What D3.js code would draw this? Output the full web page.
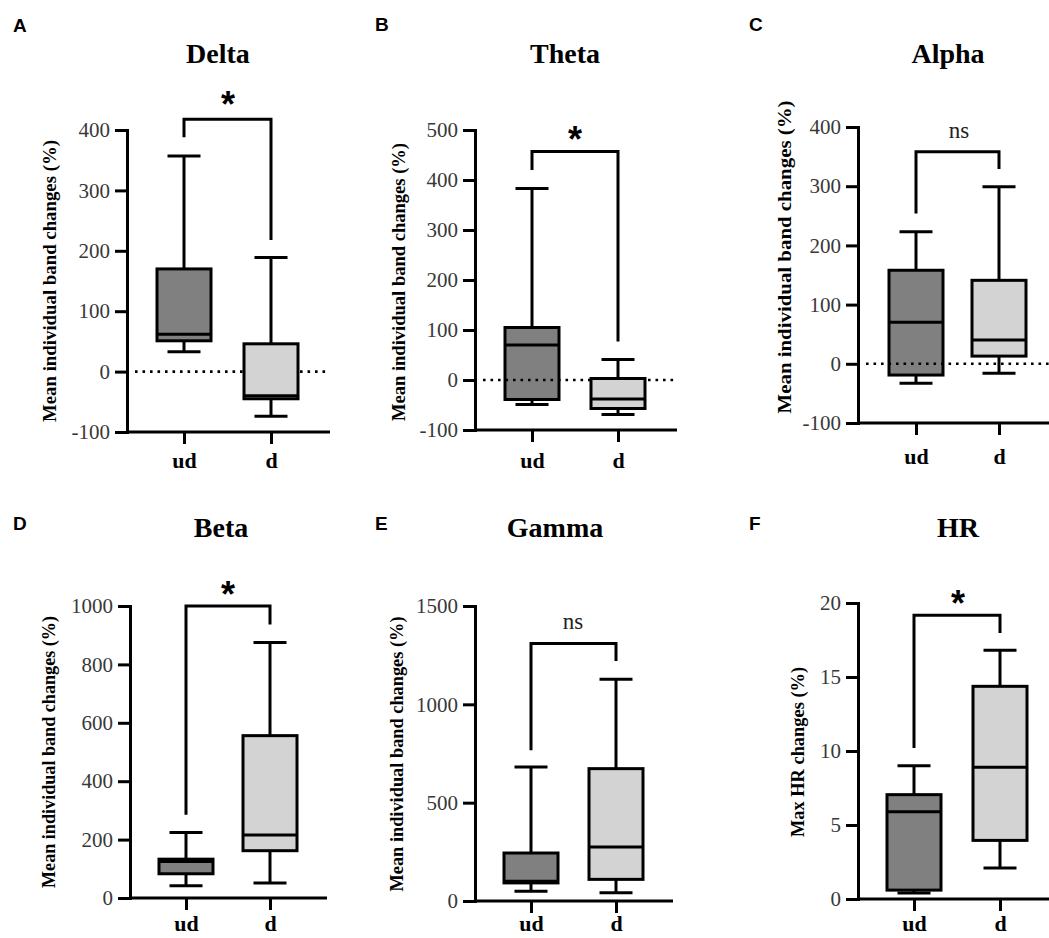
<!DOCTYPE html>
<html><head><meta charset="utf-8">
<script src="https://cdn.jsdelivr.net/npm/d3@7"></script>
<style>body{margin:0;background:#fff}svg{display:block}</style>
</head><body>
<svg id="c" width="1049" height="938"></svg>
<script>
// ---------- data ----------
const panelLetters = ["A","B","C","D","E","F"];
const panelTitles = ["Delta","Theta","Alpha","Beta","Gamma","HR"];
const groups = ["ud","d"];
const yDomains = [[-100,400],[-100,500],[-100,400],[0,1000],[0,1500],[0,20]];
const yTicks = [
  [-100,0,100,200,300,400],
  [-100,0,100,200,300,400,500],
  [-100,0,100,200,300,400],
  [0,200,400,600,800,1000],
  [0,500,1000,1500],
  [0,5,10,15,20]
];
const yLabels = [
  "Mean individual band changes (%)","Mean individual band changes (%)","Mean individual band changes (%)",
  "Mean individual band changes (%)","Mean individual band changes (%)","Max HR changes (%)"
];
// [min, q1, median, q3, max]
const udStats = [
  [33, 51, 62, 170, 357],
  [-49, -39, 70, 105, 383],
  [-33, -19, 70, 158, 223],
  [42, 83, 125, 133, 224],
  [49, 92, 100, 244, 681],
  [0.4, 0.6, 5.9, 7.05, 9.0]
];
const dStats = [
  [-74, -45, -40, 46, 189],
  [-69, -57, -38, 3, 41],
  [-16, 13, 40, 141, 299],
  [51, 162, 216, 556, 875],
  [42, 110, 275, 673, 1127],
  [2.1, 3.96, 8.9, 14.37, 16.8]
];
const significance = ["*","*","ns","*","ns","*"];
// [top, left leg end, right leg end]
const brackets = [
  [418, 388, 218],
  [457, 420, 77],
  [358, 254, 329],
  [1000, 285, 937],
  [1309, 766, 1220],
  [19.17, 10.2, 17.97]
];
const zeroLine = [true, true, true, false, false, false];

// ---------- layout ----------
const layout = [
  {ax:127, yTop:130, yBot:432, xu:184, xd:271, xEnd:330, tx:218, ty:63, lx:13, ly:32, labX:50, labY:281, labLen:282, sx:228, sy:98, xlb:468},
  {ax:475, yTop:130, yBot:430, xu:532, xd:618, xEnd:677, tx:565, ty:63, lx:375, ly:31, labX:399, labY:282, labLen:278, sx:575, sy:133, xlb:468},
  {ax:858, yTop:127, yBot:423, xu:916, xd:999, xEnd:1052, tx:948, ty:63, lx:749, ly:31, labX:785, labY:257, labLen:313, sx:959, sy:138, xlb:464},
  {ax:130, yTop:606, yBot:898, xu:186, xd:270, xEnd:327, tx:221, ty:537, lx:13, ly:530, labX:49, labY:752, labLen:272, sx:228, sy:588, xlb:931},
  {ax:475, yTop:606, yBot:901, xu:531, xd:616, xEnd:673, tx:555, ty:537, lx:375, ly:530, labX:397, labY:754, labLen:275, sx:573, sy:629, xlb:931},
  {ax:858, yTop:603, yBot:899, xu:914, xd:1000, xEnd:1052, tx:958, ty:537, lx:749, ly:530, labX:798, labY:752, labLen:170, sx:958, sy:597, xlb:931}
];
const boxW = 54, capW = 33, SW = 3;
const fills = {ud:"#808080", d:"#d3d3d3"};
const SERIF = "'Liberation Serif', 'Times New Roman', serif";
const SANS = "'Liberation Sans', Arial, sans-serif";

const svg = d3.select("#c");
svg.append("rect").attr("width",1049).attr("height",938).attr("fill","#fff");

panelTitles.forEach((title, i) => {
  const L = layout[i];
  const g = svg.append("g");
  const y = d3.scaleLinear().domain(yDomains[i]).range([L.yBot, L.yTop]);
  const x = d3.scalePoint().domain(groups).range([L.xu, L.xd]);

  // letter
  g.append("text").attr("x", L.lx).attr("y", L.ly).text(panelLetters[i])
    .style("font-family",SANS).attr("font-weight","bold")
    .attr("font-size",19).attr("fill","#000");
  // title
  g.append("text").attr("x", L.tx).attr("y", L.ty).attr("text-anchor","middle").text(title)
    .style("font-family",SERIF).attr("font-weight","bold")
    .attr("font-size",28).attr("fill","#000");
  // y label
  g.append("text").attr("transform",`translate(${L.labX},${L.labY}) rotate(-90)`)
    .attr("text-anchor","middle").attr("dominant-baseline","central")
    .attr("textLength", L.labLen).attr("lengthAdjust","spacingAndGlyphs")
    .text(yLabels[i])
    .style("font-family",SERIF).attr("font-weight","bold")
    .attr("font-size",18).attr("fill","#000");

  // y axis
  const ya = g.append("g").attr("transform",`translate(${L.ax},0)`)
    .call(d3.axisLeft(y).tickValues(yTicks[i]).tickSize(12).tickPadding(5).tickSizeOuter(0).tickFormat(d => String(d)));
  ya.attr("font-family", null).attr("font-size", null);
  ya.select(".domain").attr("stroke","#000").attr("stroke-width",SW).attr("stroke-linecap","square");
  ya.selectAll(".tick line").attr("stroke","#000").attr("stroke-width",SW);
  ya.selectAll(".tick text").style("font-family",SERIF)
    .attr("font-size",21).attr("fill","#383838");

  // x axis
  const xa = g.append("g").attr("transform",`translate(0,${L.yBot})`)
    .call(d3.axisBottom(x).tickSize(12).tickSizeOuter(0));
  xa.attr("font-family", null).attr("font-size", null);
  xa.select(".domain").remove();
  xa.append("line").attr("x1", L.ax).attr("x2", L.xEnd).attr("y1",0).attr("y2",0)
    .attr("stroke","#000").attr("stroke-width",SW);
  xa.selectAll(".tick line").attr("stroke","#000").attr("stroke-width",SW);
  xa.selectAll(".tick text").attr("y", L.xlb - L.yBot).attr("dy",null)
    .style("font-family",SERIF).attr("font-weight","bold")
    .attr("font-size",22).attr("fill","#000");

  const drawBox = (grp, s) => {
    const cx = x(grp);
    const bg = g.append("g");
    bg.append("line").attr("x1",cx).attr("x2",cx).attr("y1",y(s[0])).attr("y2",y(s[4]))
      .attr("stroke","#000").attr("stroke-width",SW);
    [s[0], s[4]].forEach(v => bg.append("line").attr("x1",cx-capW/2).attr("x2",cx+capW/2)
      .attr("y1",y(v)).attr("y2",y(v)).attr("stroke","#000").attr("stroke-width",SW));
    bg.append("rect").attr("x",cx-boxW/2).attr("width",boxW)
      .attr("y",y(s[3])).attr("height",y(s[1])-y(s[3]))
      .attr("fill",fills[grp]).attr("stroke","#000").attr("stroke-width",SW);
    bg.append("line").attr("x1",cx-boxW/2).attr("x2",cx+boxW/2).attr("y1",y(s[2])).attr("y2",y(s[2]))
      .attr("stroke","#000").attr("stroke-width",SW);
  };

  drawBox("ud", udStats[i]);
  if (zeroLine[i]) {
    g.append("line").attr("x1",L.ax+8).attr("x2",L.xEnd).attr("y1",y(0)).attr("y2",y(0))
      .attr("stroke","#000").attr("stroke-width",2.6).attr("stroke-dasharray","2.6,4.9");
  }
  drawBox("d", dStats[i]);

  // bracket
  const b = brackets[i];
  g.append("path").attr("d",`M${x("ud")},${y(b[1])}V${y(b[0])}H${x("d")}V${y(b[2])}`)
    .attr("fill","none").attr("stroke","#000").attr("stroke-width",SW);

  if (significance[i] === "*") {
    g.append("text").attr("x",L.sx).attr("y",L.sy + 19).attr("text-anchor","middle").text("*")
      .style("font-family",SANS).attr("font-weight","bold")
      .attr("font-size",36).attr("fill","#000");
  } else {
    g.append("text").attr("x",L.sx).attr("y",L.sy).attr("text-anchor","middle").text(significance[i])
      .style("font-family",SERIF)
      .attr("font-size",23).attr("fill","#222");
  }
});
</script>
</body></html>
